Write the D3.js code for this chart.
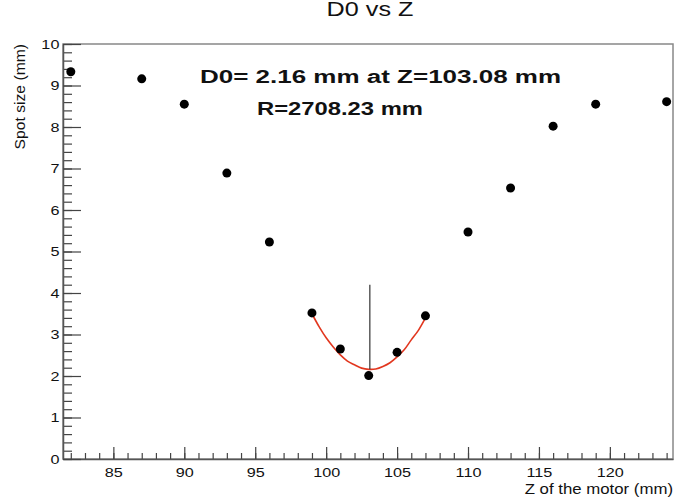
<!DOCTYPE html>
<html>
<head>
<meta charset="utf-8">
<script src="https://cdn.jsdelivr.net/npm/d3@7"></script>
<style>
  body { margin: 0; background: #fff; }
  text { font-family: "Liberation Sans", Arial, sans-serif; fill: #111; }
</style>
</head>
<body>
<div id="chart"></div>
<script>
// measured points (motor position vs spot size)
const zMotor   = [82, 87, 90, 93, 96, 99, 101, 103, 105, 107, 110, 113, 116, 119, 124];
const spotSize = [9.33, 9.16, 8.55, 6.89, 5.23, 3.52, 2.65, 2.01, 2.57, 3.45, 5.47, 6.53, 8.02, 8.55, 8.61];

// fitted curve
const fitZ    = [99, 99.5, 100, 100.5, 101, 101.5, 102, 102.5, 103, 103.5, 104, 104.5, 105, 105.5, 106, 106.5, 107];
const fitSize = [3.50, 3.19, 2.92, 2.70, 2.51, 2.36, 2.27, 2.19, 2.16, 2.17, 2.23, 2.32, 2.46, 2.63, 2.87, 3.10, 3.40];

// waist marker
const waistZ = 103.08;
const waistD = [2.16, 4.2];

const xTicks = [85, 90, 95, 100, 105, 110, 115, 120];
const yTicks = [0, 1, 2, 3, 4, 5, 6, 7, 8, 9, 10];
const fitLabels = ["D0= 2.16 mm at Z=103.08 mm", "R=2708.23 mm"];

const W = 680, H = 500;
const stretch = 1.2; // text in the picture is wider than normal

const svg = d3.select("#chart").append("svg")
    .attr("width", W)
    .attr("height", H);

const x = d3.scaleLinear().domain([81.45, 124.45]).range([63, 673]);
const y = d3.scaleLinear().domain([0, 10]).range([459, 44]);

// frame
svg.append("rect")
    .attr("x", x.range()[0])
    .attr("y", y.range()[1])
    .attr("width", x.range()[1] - x.range()[0])
    .attr("height", y.range()[0] - y.range()[1])
    .style("fill", "none")
    .style("stroke", "#888")
    .style("stroke-width", 1.5);

// minor ticks
svg.append("g")
    .attr("transform", "translate(0," + y.range()[0] + ")")
    .call(d3.axisBottom(x).tickValues(d3.range(82, 125, 1)).tickSize(-6).tickFormat(""))
    .call(g => g.select(".domain").remove())
    .selectAll("line").style("stroke", "#444").style("stroke-width", 1.2);

svg.append("g")
    .attr("transform", "translate(" + x.range()[0] + ",0)")
    .call(d3.axisLeft(y).tickValues(d3.range(0, 10.01, 0.2)).tickSize(-9).tickFormat(""))
    .call(g => g.select(".domain").remove())
    .selectAll("line").style("stroke", "#444").style("stroke-width", 1.2);

// major ticks + labels
const xAxis = svg.append("g")
    .attr("transform", "translate(0," + y.range()[0] + ")")
    .call(d3.axisBottom(x).tickValues(xTicks).tickSize(-12).tickPadding(5).tickSizeOuter(0));
const yAxis = svg.append("g")
    .attr("transform", "translate(" + x.range()[0] + ",0)")
    .call(d3.axisLeft(y).tickValues(yTicks).tickSize(-18).tickPadding(3).tickSizeOuter(0));

[xAxis, yAxis].forEach(ax => {
    ax.select(".domain").style("stroke", "#555").style("stroke-width", 1.5);
    ax.selectAll("line").style("stroke", "#444").style("stroke-width", 1.2);
    ax.selectAll("text")
        .style("font-size", "13.5px")
        .style("fill", "#111")
        .attr("transform", "scale(" + stretch + ",1)");
});
xAxis.selectAll("text").attr("dy", "1em");

// axis titles
svg.append("text")
    .attr("transform", "translate(673,494) scale(" + stretch + ",1)")
    .attr("text-anchor", "end")
    .style("font-size", "14px")
    .text("Z of the motor (mm)");

svg.append("text")
    .attr("transform", "translate(25,44) rotate(-90) scale(1.12,1)")
    .attr("text-anchor", "end")
    .style("font-size", "14px")
    .text("Spot size (mm)");

// title, cut at the top edge
svg.append("text")
    .attr("transform", "translate(370,15.5) scale(" + stretch + ",1)")
    .attr("text-anchor", "middle")
    .style("font-size", "21px")
    .text("D0 vs Z");

// fit result
svg.append("text")
    .attr("x", 200).attr("y", 83)
    .attr("textLength", 361).attr("lengthAdjust", "spacingAndGlyphs")
    .style("font-size", "18px").style("font-weight", "bold")
    .text(fitLabels[0]);
svg.append("text")
    .attr("x", 257).attr("y", 115)
    .attr("textLength", 166).attr("lengthAdjust", "spacingAndGlyphs")
    .style("font-size", "18px").style("font-weight", "bold")
    .text(fitLabels[1]);

// fitted curve
const line = d3.line()
    .x((d, i) => x(fitZ[i]))
    .y(d => y(d))
    .curve(d3.curveCatmullRom);

svg.append("path")
    .datum(fitSize)
    .attr("d", line)
    .style("fill", "none")
    .style("stroke", "#e2371f")
    .style("stroke-width", 1.6);

// waist marker
svg.append("line")
    .attr("x1", x(waistZ)).attr("x2", x(waistZ))
    .attr("y1", y(waistD[0])).attr("y2", y(waistD[1]))
    .style("stroke", "#333")
    .style("stroke-width", 1.2);

// points
svg.selectAll(".pt")
    .data(zMotor)
    .enter().append("circle")
    .attr("class", "pt")
    .attr("cx", d => x(d))
    .attr("cy", (d, i) => y(spotSize[i]))
    .attr("r", 4.5)
    .style("fill", "#000");
</script>
</body>
</html>
